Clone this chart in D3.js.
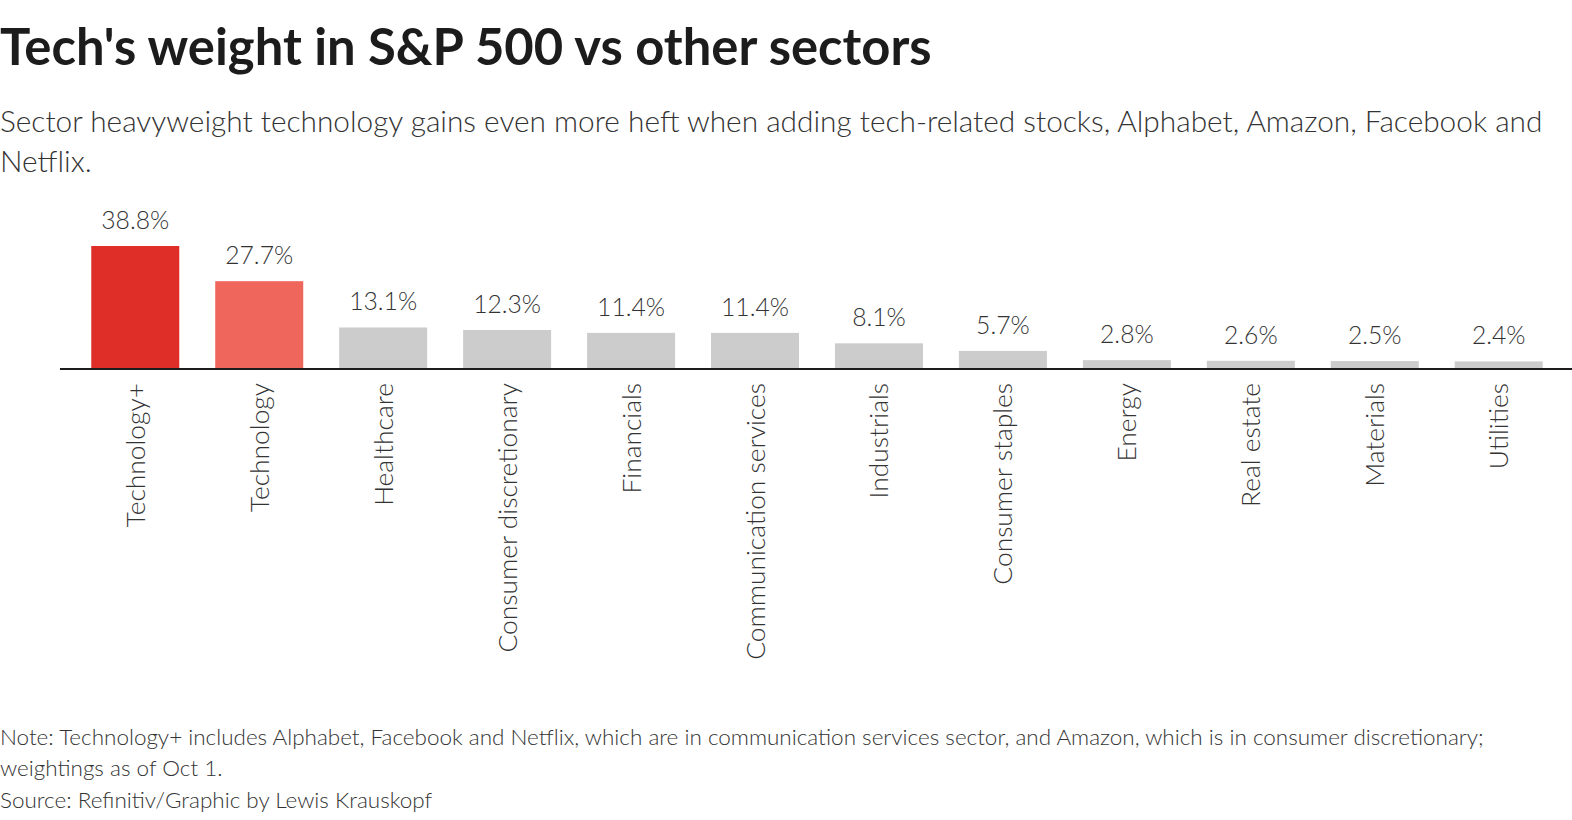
<!DOCTYPE html>
<html>
<head>
<meta charset="utf-8">
<script src="https://cdn.jsdelivr.net/npm/d3@7"></script>
<style>
  html, body { margin: 0; padding: 0; background: #fff; }
  svg { display: block; }
  text { font-family: Lato, "Open Sans", sans-serif; }
</style>
</head>
<body>
<svg id="chart" width="1572" height="820"></svg>
<script>
const categories = ["Technology+", "Technology", "Healthcare", "Consumer discretionary", "Financials",
  "Communication services", "Industrials", "Consumer staples", "Energy", "Real estate", "Materials", "Utilities"];
const weights = [38.8, 27.7, 13.1, 12.3, 11.4, 11.4, 8.1, 5.7, 2.8, 2.6, 2.5, 2.4];
const valueLabels = ["38.8%", "27.7%", "13.1%", "12.3%", "11.4%", "11.4%", "8.1%", "5.7%", "2.8%", "2.6%", "2.5%", "2.4%"];
const barColors = ["#de2e27", "#ef665d", "#cccccc", "#cccccc", "#cccccc", "#cccccc", "#cccccc", "#cccccc", "#cccccc", "#cccccc", "#cccccc", "#cccccc"];

const titleText = "Tech's weight in S&P 500 vs other sectors";
const subtitleLines = ["Sector heavyweight technology gains even more heft when adding tech-related stocks, Alphabet, Amazon, Facebook and", "Netflix."];
const noteLines = ["Note: Technology+ includes Alphabet, Facebook and Netflix, which are in communication services sector, and Amazon, which is in consumer discretionary;", "weightings as of Oct 1."];
const sourceText = "Source: Refinitiv/Graphic by Lewis Krauskopf";

const svg = d3.select("#chart");

// helper: find font size making a string match a target width
function fitSize(text, weight, target) {
  const t = svg.append("text").attr("font-size", 100).attr("font-weight", weight).text(text);
  const w = t.node().getComputedTextLength();
  t.remove();
  return 100 * target / w;
}

// Title
svg.append("text")
  .attr("x", 0).attr("y", 65)
  .attr("font-weight", 700)
  .attr("font-size", fitSize(titleText, 700, 932))
  .attr("fill", "#1c1c1c")
  .text(titleText);

// Subtitle
const subSize = fitSize(subtitleLines[0], 300, 1543);
svg.selectAll("text.sub").data(subtitleLines).join("text")
  .attr("class", "sub")
  .attr("x", 0).attr("y", (d, i) => 132 + i * 40)
  .attr("font-weight", 300)
  .attr("font-size", subSize)
  .attr("fill", "#333")
  .text(d => d);

// Scales
const x = d3.scaleBand().domain(categories).range([64, 1570]).paddingInner(0.29).paddingOuter(0.22);
const y = d3.scaleLinear().domain([0, 40]).range([369, 369 - 40 * 3.17]);

const data = categories.map((c, i) => ({ c, v: weights[i], label: valueLabels[i], color: barColors[i] }));

// Bars
svg.append("g").selectAll("rect").data(data).join("rect")
  .attr("x", d => x(d.c))
  .attr("width", x.bandwidth())
  .attr("y", d => y(d.v))
  .attr("height", d => y(0) - y(d.v))
  .attr("fill", d => d.color);

// Value labels
const valSize = fitSize("38.8%", 300, 68);
svg.append("g").selectAll("text").data(data).join("text")
  .attr("x", d => x(d.c) + x.bandwidth() / 2)
  .attr("y", d => y(d.v) - 17)
  .attr("text-anchor", "middle")
  .attr("font-weight", 300)
  .attr("font-size", valSize)
  .attr("fill", "#333")
  .text(d => d.label);

// Axis
const axisSize = fitSize("Communication services", 300, 277);
const axis = d3.axisBottom(x).tickSize(0).tickPadding(0);
const gAxis = svg.append("g").attr("transform", `translate(0,${y(0)})`).call(axis);
gAxis.select(".domain").remove();
gAxis.append("line")
  .attr("x1", 60).attr("x2", 1572).attr("y1", 0).attr("y2", 0)
  .attr("stroke", "#1c1c1c").attr("stroke-width", 2);
gAxis.selectAll(".tick text")
  .attr("transform", "rotate(-90)")
  .attr("x", -14).attr("y", 0).attr("dy", "0.36em")
  .attr("text-anchor", "end")
  .attr("font-family", "Lato, 'Open Sans', sans-serif")
  .attr("font-weight", 300)
  .attr("font-size", axisSize)
  .attr("fill", "#333");

// Notes
const noteSize = fitSize(noteLines[0], 300, 1485);
svg.selectAll("text.note").data(noteLines).join("text")
  .attr("class", "note")
  .attr("x", 0).attr("y", (d, i) => 745 + i * 31)
  .attr("font-weight", 300)
  .attr("font-size", noteSize)
  .attr("fill", "#333")
  .text(d => d);

svg.append("text")
  .attr("x", 0).attr("y", 808)
  .attr("font-weight", 300)
  .attr("font-size", noteSize)
  .attr("fill", "#333")
  .text(sourceText);
</script>
</body>
</html>
